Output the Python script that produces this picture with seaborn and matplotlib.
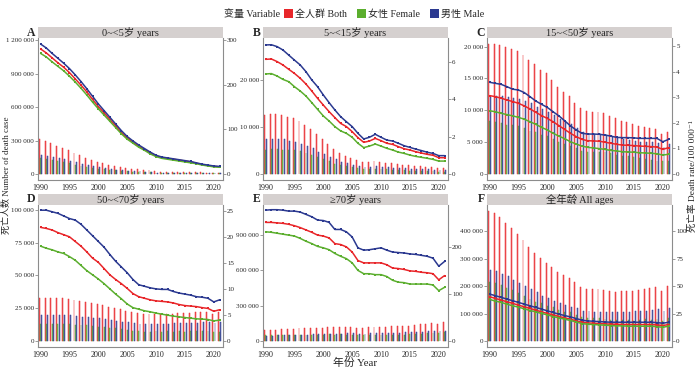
import matplotlib
matplotlib.use("Agg")
import matplotlib.pyplot as plt
from matplotlib.patches import Patch, Rectangle
from matplotlib.ticker import FuncFormatter
import numpy as np
import pandas as pd
import seaborn as sns

# 年份与性别
years = list(range(1990, 2022))
sex_labels = ["全人群 Both", "女性 Female", "男性 Male"]
sex_colors = ["#E8262A", "#5BAE2E", "#2B3990"]

# A: 0~<5岁
a_n_both = [310000, 296000, 275000, 254000, 236000, 215000, 191000, 167000, 146000, 125000, 107000, 95000, 84000, 72000, 60000, 51000,
            45000, 42000, 36000, 33000, 24000, 22000, 21000, 20000, 19000, 18000, 17000, 15000, 14000, 13000, 12000, 11000]
a_n_female = [140000, 134000, 124000, 113000, 105000, 96000, 85000, 74000, 65000, 56000, 48000, 42000, 37000, 32000, 27000, 23000,
              20000, 19000, 16000, 15000, 11000, 10000, 9000, 9000, 9000, 8000, 8000, 7000, 6000, 6000, 5000, 5000]
a_n_male = [170000, 162000, 151000, 141000, 131000, 119000, 106000, 93000, 81000, 69000, 59000, 53000, 47000, 40000, 33000, 28000,
            25000, 23000, 20000, 18000, 13000, 12000, 12000, 11000, 10000, 10000, 9000, 8000, 8000, 7000, 7000, 6000]
a_r_both = [280, 271, 260, 249, 239, 227, 213, 199, 184, 167, 151, 137, 122, 108, 93, 81,
            71, 62, 55, 47, 40, 37, 35, 33, 31, 29, 27, 24, 21, 19, 17, 16]
a_r_female = [270, 262, 251, 241, 231, 219, 206, 192, 177, 161, 146, 132, 118, 104, 90, 78,
              69, 60, 53, 45, 39, 35, 33, 31, 29, 27, 25, 23, 20, 18, 16, 15]
a_r_male = [291, 282, 270, 259, 248, 236, 222, 207, 191, 174, 157, 142, 127, 112, 97, 84,
            74, 65, 57, 49, 42, 38, 36, 34, 32, 30, 28, 25, 22, 20, 18, 17]

# B: 5~<15岁
b_n_both = [12550, 12770, 12770, 12550, 12200, 11840, 11350, 10430, 9500, 8440, 7380, 6380, 5320, 4540, 3900, 3330,
            2980, 2550, 2620, 2770, 2620, 2410, 2270, 2130, 1990, 1840, 1700, 1630, 1560, 1490, 1350, 1350]
b_n_female = [5170, 5320, 5320, 5170, 5180, 5100, 4970, 4470, 4040, 3690, 3120, 2690, 2130, 1920, 1630, 1420,
              1280, 990, 1060, 1140, 1060, 990, 920, 850, 780, 710, 640, 640, 570, 570, 500, 500]
b_n_male = [7380, 7450, 7450, 7380, 7020, 6740, 6380, 5960, 5460, 4750, 4260, 3690, 3190, 2620, 2270, 1910,
            1700, 1560, 1560, 1630, 1560, 1420, 1350, 1280, 1210, 1130, 1060, 990, 990, 920, 850, 850]
b_r_both = [6.12, 6.14, 6.00, 5.82, 5.59, 5.37, 5.11, 4.80, 4.43, 4.04, 3.68, 3.33, 3.01, 2.70, 2.53, 2.26,
            1.94, 1.69, 1.76, 1.90, 1.78, 1.64, 1.58, 1.46, 1.35, 1.28, 1.19, 1.12, 1.05, 1.00, 0.87, 0.87]
b_r_female = [5.34, 5.36, 5.23, 5.05, 4.93, 4.66, 4.43, 4.16, 3.81, 3.45, 3.10, 2.83, 2.53, 2.30, 2.17, 1.96,
              1.64, 1.41, 1.49, 1.60, 1.49, 1.37, 1.28, 1.17, 1.10, 1.01, 0.94, 0.89, 0.84, 0.78, 0.69, 0.69]
b_r_male = [6.89, 6.90, 6.80, 6.62, 6.35, 6.08, 5.82, 5.46, 5.02, 4.66, 4.22, 3.81, 3.42, 3.06, 2.79, 2.53,
            2.17, 1.87, 1.96, 2.12, 1.96, 1.81, 1.76, 1.64, 1.51, 1.42, 1.33, 1.25, 1.16, 1.10, 0.98, 0.98]

# C: 15~<50岁
c_n_both = [20420, 20420, 20260, 19900, 19630, 19370, 18690, 17900, 17220, 16330, 15810, 14760, 13720, 12930, 12250, 11200,
            10310, 9900, 9790, 9790, 9630, 9110, 8740, 8380, 8120, 7800, 7540, 7430, 7170, 7020, 6280, 6650]
c_n_female = [8270, 8120, 7960, 7750, 7750, 7590, 7220, 6800, 6640, 6170, 6020, 5490, 5080, 4710, 4450, 4030,
              3660, 3510, 3510, 3510, 3500, 3250, 3030, 2880, 2780, 2620, 2460, 2350, 2200, 2100, 1990, 1990]
c_n_male = [12150, 12300, 12300, 12150, 11880, 11780, 11470, 11100, 10580, 10160, 9790, 9270, 8640, 8220, 7800, 7170,
            6650, 6390, 6280, 6280, 6130, 5860, 5710, 5500, 5340, 5180, 5080, 5080, 4970, 4920, 4290, 4660]
c_r_both = [3.06, 3.02, 2.96, 2.89, 2.83, 2.76, 2.66, 2.54, 2.41, 2.28, 2.17, 2.04, 1.89, 1.74, 1.59, 1.46,
            1.35, 1.30, 1.29, 1.28, 1.24, 1.20, 1.16, 1.13, 1.12, 1.11, 1.09, 1.08, 1.07, 1.05, 0.96, 1.03]
c_r_female = [2.47, 2.43, 2.37, 2.32, 2.27, 2.21, 2.14, 2.04, 1.94, 1.82, 1.72, 1.59, 1.48, 1.38, 1.26, 1.17,
              1.09, 1.04, 1.02, 0.99, 0.96, 0.92, 0.90, 0.87, 0.86, 0.85, 0.83, 0.82, 0.81, 0.79, 0.74, 0.77]
c_r_male = [3.58, 3.54, 3.50, 3.41, 3.31, 3.28, 3.18, 3.02, 2.85, 2.72, 2.60, 2.43, 2.27, 2.08, 1.88, 1.72,
            1.59, 1.56, 1.56, 1.55, 1.52, 1.48, 1.43, 1.42, 1.42, 1.41, 1.39, 1.39, 1.39, 1.39, 1.26, 1.35]

# D: 50~<70岁
d_n_both = [32560, 32800, 32800, 32800, 32560, 32300, 31540, 30770, 30000, 29230, 28200, 27440, 26150, 25130, 24360, 23080,
            21800, 21030, 20260, 20260, 20510, 20510, 20770, 20770, 21030, 21030, 21540, 21800, 22050, 22300, 20770, 21800]
d_n_female = [12820, 12800, 12800, 12800, 12820, 12810, 12570, 12310, 12050, 11790, 11020, 10770, 10250, 9750, 9490, 8460,
              7950, 7700, 7180, 7180, 7430, 7180, 7440, 7180, 7440, 7180, 7440, 7700, 7690, 7680, 6920, 7180]
d_n_male = [19740, 20000, 20000, 20000, 19740, 19490, 18970, 18460, 17950, 17440, 17180, 16670, 15900, 15380, 14870, 14620,
            13850, 13330, 13080, 13080, 13080, 13330, 13330, 13590, 13590, 13850, 14100, 14100, 14360, 14620, 13850, 14620]
d_r_both = [21.8, 21.6, 21.3, 20.8, 20.4, 20.0, 19.1, 18.2, 17.1, 15.9, 15.1, 13.9, 12.7, 11.8, 11.0, 10.1,
            9.1, 8.5, 8.2, 7.9, 7.7, 7.6, 7.5, 7.3, 7.0, 6.8, 6.7, 6.6, 6.4, 6.25, 5.7, 6.0]
d_r_female = [18.2, 17.8, 17.5, 17.1, 16.8, 16.2, 15.5, 14.5, 13.5, 12.7, 11.9, 11.0, 10.0, 9.0, 8.1, 7.1,
              6.4, 6.1, 5.8, 5.6, 5.35, 5.15, 4.96, 4.77, 4.64, 4.5, 4.38, 4.25, 4.2, 4.12, 3.87, 4.0]
d_r_male = [25.1, 25.1, 24.8, 24.5, 24.0, 23.5, 23.2, 22.4, 21.3, 20.2, 19.1, 18.0, 16.6, 15.3, 14.2, 13.1,
            11.8, 10.8, 10.5, 10.2, 10.0, 9.9, 9.9, 9.5, 9.2, 9.0, 8.8, 8.5, 8.4, 8.2, 7.5, 7.9]

# E: ≥70岁
e_n_both = [94300, 94300, 97100, 100000, 102900, 105700, 108600, 108600, 111400, 111400, 114300, 117100, 117100, 120000, 120000, 120000,
            114300, 114300, 117100, 120000, 122900, 122900, 125700, 125700, 128600, 131400, 137100, 142900, 148600, 154300, 148600, 162900]
e_n_female = [48600, 48600, 48500, 51400, 51500, 54300, 54300, 54300, 54300, 54300, 54300, 57100, 54200, 57100, 54300, 54300,
              51400, 51400, 51400, 54300, 54300, 54300, 54300, 54300, 54300, 57100, 60000, 62900, 65700, 68600, 65700, 74300]
e_n_male = [45700, 45700, 48600, 48600, 51400, 51400, 54300, 54300, 57100, 57100, 60000, 60000, 62900, 62900, 65700, 65700,
            62900, 62900, 65700, 65700, 68600, 68600, 71400, 71400, 74300, 74300, 77100, 80000, 82900, 85700, 82900, 88600]
e_r_both = [252, 252, 251, 250, 248, 245, 241, 236, 231, 225, 223, 219, 207, 205, 200, 189,
            171, 166, 166, 166, 166, 162, 155, 154, 152, 149, 148, 146, 145, 143, 130, 139]
e_r_female = [232, 231, 229, 227, 225, 223, 218, 212, 207, 201, 198, 194, 186, 180, 175, 166,
              150, 143, 143, 141, 141, 137, 129, 125, 124, 121, 121, 121, 121, 119, 107, 114]
e_r_male = [278, 279, 279, 278, 276, 276, 274, 269, 264, 257, 256, 252, 237, 237, 232, 221,
            198, 193, 194, 196, 198, 193, 189, 188, 187, 185, 184, 182, 180, 176, 159, 169]

# F: 全年龄
f_n_both = [473000, 465000, 450000, 428000, 410000, 388000, 367000, 342000, 320000, 302000, 285000, 269000, 251000, 239000, 229000, 214000,
            196000, 190000, 190000, 190000, 187000, 183000, 180000, 181000, 181000, 181000, 186000, 190000, 192000, 196000, 183000, 202000]
f_n_female = [216000, 212000, 205000, 192000, 187000, 176000, 165000, 152000, 143000, 137000, 129000, 125000, 114000, 107000, 104000, 95000,
              86000, 82000, 84000, 84000, 81000, 78000, 75000, 75000, 75000, 72000, 76000, 79000, 78000, 80000, 73000, 83000]
f_n_male = [257000, 253000, 245000, 236000, 223000, 212000, 202000, 190000, 177000, 165000, 156000, 144000, 137000, 132000, 125000, 119000,
            110000, 108000, 106000, 106000, 106000, 105000, 105000, 106000, 106000, 109000, 110000, 111000, 114000, 116000, 110000, 119000]
f_r_both = [40.4, 38.8, 37.3, 35.8, 34.3, 32.7, 31.2, 29.7, 28.1, 26.6, 25.1, 23.9, 22.3, 21.1, 19.9, 18.3,
            17.1, 16.5, 16.2, 15.9, 15.6, 15.3, 15.3, 15.0, 15.0, 15.0, 15.0, 15.0, 15.0, 14.7, 14.1, 15.0]
f_r_female = [37.9, 36.4, 35.2, 33.6, 32.1, 30.9, 29.4, 27.8, 26.6, 25.1, 23.9, 22.3, 21.1, 19.9, 18.7, 17.4,
              15.9, 15.3, 15.0, 14.7, 14.4, 14.1, 13.8, 13.8, 13.5, 13.5, 13.5, 13.5, 13.5, 13.1, 12.5, 13.5]
f_r_male = [42.8, 41.3, 39.8, 38.2, 36.7, 35.2, 33.6, 32.1, 30.6, 29.1, 27.5, 26.0, 24.5, 23.2, 22.0, 20.5,
            19.0, 18.3, 18.0, 17.7, 17.4, 17.1, 17.1, 17.1, 17.1, 17.1, 17.1, 17.1, 17.1, 16.8, 16.2, 17.1]

panel_letters = ["A", "B", "C", "D", "E", "F"]
panel_titles = ["0~<5岁 years", "5~<15岁 years", "15~<50岁 years", "50~<70岁 years", "≥70岁 years", "全年龄 All ages"]
left_ticks = [[0, 300000, 600000, 900000, 1200000], [0, 10000, 20000], [0, 5000, 10000, 15000, 20000],
              [0, 25000, 50000, 75000, 100000], [0, 300000, 600000, 900000], [0, 100000, 200000, 300000, 400000]]
right_ticks = [[0, 100, 200, 300], [0, 2, 4, 6], [0, 1, 2, 3, 4, 5],
               [0, 5, 10, 15, 20, 25], [0, 100, 200], [0, 25, 50, 75, 100]]
left_top = [1218000, 28900, 21360, 103800, 1157000, 495000]
right_top = [304.5, 7.26, 5.31, 26.1, 289, 124]

counts = [(a_n_both, a_n_female, a_n_male), (b_n_both, b_n_female, b_n_male), (c_n_both, c_n_female, c_n_male),
          (d_n_both, d_n_female, d_n_male), (e_n_both, e_n_female, e_n_male), (f_n_both, f_n_female, f_n_male)]
rates = [(a_r_both, a_r_female, a_r_male), (b_r_both, b_r_female, b_r_male), (c_r_both, c_r_female, c_r_male),
         (d_r_both, d_r_female, d_r_male), (e_r_both, e_r_female, e_r_male), (f_r_both, f_r_female, f_r_male)]

sns.set_style("white")
plt.rcParams["font.family"] = ["Liberation Serif", "Noto Sans CJK SC", "DejaVu Serif"]
plt.rcParams["axes.unicode_minus"] = False

W, H = 700, 371
fig = plt.figure(figsize=(W / 100, H / 100), dpi=100)

col_left = [38, 263, 487]
row_top = [38, 205]
ax_w, ax_h = 185, 142
margin = 18 / 408
spine_col = "#8C8C8C"


def long_frame(series):
    return pd.DataFrame({
        "year": years * 3,
        "sex": np.repeat(sex_labels, len(years)),
        "value": list(series[0]) + list(series[1]) + list(series[2]),
    })


space_fmt = FuncFormatter(lambda v, p: f"{int(round(v)):,}".replace(",", " "))

for i in range(6):
    r, c = divmod(i, 3)
    x0 = col_left[c]
    y_top = row_top[r]
    ax = fig.add_axes([x0 / W, (H - y_top - ax_h) / H, ax_w / W, ax_h / H])

    sns.barplot(data=long_frame(counts[i]), x="year", y="value", hue="sex", hue_order=sex_labels,
                palette=sex_colors, native_scale=True, width=0.66, gap=0.28, saturation=1,
                errorbar=None, legend=False, ax=ax)
    for p in ax.patches:
        fc = p.get_facecolor()
        p.set_facecolor((fc[0], fc[1], fc[2], 0.72))
        p.set_edgecolor((fc[0], fc[1], fc[2], 1.0))
        p.set_linewidth(0.35)

    ax2 = ax.twinx()
    sns.lineplot(data=long_frame(rates[i]), x="year", y="value", hue="sex", hue_order=sex_labels,
                 palette=sex_colors, marker="s", markersize=1.8, markeredgewidth=0, linewidth=1.1,
                 legend=False, ax=ax2)

    ax.set_xlim(1989.55, 2021.6)
    ax.set_ylim(-margin * left_top[i], left_top[i])
    ax2.set_ylim(-margin * right_top[i], right_top[i])
    ax.set_xticks([1990, 1995, 2000, 2005, 2010, 2015, 2020])
    ax.set_yticks(left_ticks[i])
    ax2.set_yticks(right_ticks[i])
    ax.yaxis.set_major_formatter(space_fmt)
    ax.set_xlabel("")
    ax.set_ylabel("")
    ax2.set_ylabel("")

    for a in (ax, ax2):
        a.spines["top"].set_visible(False)
        for s in a.spines.values():
            s.set_color(spine_col)
            s.set_linewidth(0.8)
    ax.spines["right"].set_visible(False)
    ax2.spines["left"].set_visible(False)
    ax2.spines["bottom"].set_visible(False)
    ax.tick_params(axis="both", labelsize=5.0, length=2, width=0.6, color=spine_col, pad=1)
    ax2.tick_params(axis="y", labelsize=5.0, length=2, width=0.6, color=spine_col, pad=1)
    ax.tick_params(axis="x", labelsize=5.8, pad=1)

    # 分面标题条
    strip_h = 11 / ax_h
    ax.add_patch(Rectangle((0, 1.0), 1, strip_h, transform=ax.transAxes, facecolor="#D5D0CF",
                           edgecolor="none", clip_on=False, zorder=5))
    ax.text(0.5, 1.0 + strip_h / 2, panel_titles[i], transform=ax.transAxes, ha="center", va="center",
            fontsize=7.5, zorder=6)
    ax.text(-0.012, 1.0 + strip_h / 2, panel_letters[i], transform=ax.transAxes, ha="right", va="center",
            fontsize=8.5, fontweight="bold")

fig.text(6 / W, 1 - 175 / H, "死亡人数 Number of death case", rotation=90, ha="center", va="center", fontsize=6.5)
fig.text(692 / W, 1 - 176 / H, "死亡率 Death rate/100 000⁻¹", rotation=90, ha="center", va="center", fontsize=6.8,
         family=["Liberation Serif", "Noto Sans CJK SC", "DejaVu Serif"])
fig.text(355 / W, 8 / H, "年份 Year", ha="center", va="center", fontsize=7.8)

fig.text(224 / W, 1 - 14 / H, "变量 Variable", ha="left", va="center", fontsize=7.2)
handles = [Patch(facecolor=col, edgecolor="none") for col in sex_colors]
fig.legend(handles, sex_labels, loc="center left", bbox_to_anchor=(284 / W, 1 - 14 / H), ncol=3, frameon=False,
           fontsize=7.2, handlelength=0.9, handleheight=0.9, handletextpad=0.2, columnspacing=1.0,
           borderaxespad=0, borderpad=0)

fig.savefig("out.png", dpi=100)
